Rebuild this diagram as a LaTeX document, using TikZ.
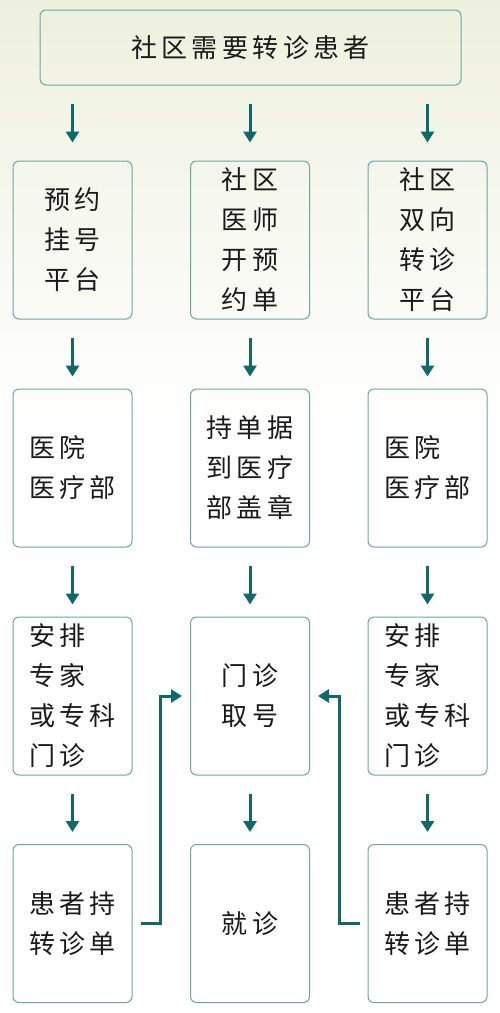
\documentclass[tikz,border=0pt]{standalone}
\usepackage{fontspec}
\newfontfamily\cjk[LetterSpace=17]{Noto Sans CJK SC}
\usetikzlibrary{arrows.meta,calc}
\definecolor{qingse}{HTML}{0D6A66}
\definecolor{kuangse}{HTML}{6AA8A0}
\definecolor{mise}{HTML}{EEF0DE}
\definecolor{zise}{HTML}{1A1A1A}
\tikzset{
  kuang/.style={draw=kuangse, line width=1pt, rounded corners=6pt, minimum width=119pt,
    minimum height=158pt, align=left, text=zise, inner sep=0pt,
    font=\cjk\fontsize{26}{40}\selectfont},
  jiantou/.style={draw=qingse, line width=3pt, -{Triangle[width=13pt,length=11pt]},
    shorten <=18pt, shorten >=12pt}
}

\begin{document}
\begin{tikzpicture}[x=1pt,y=-1pt]
    % 背景
    \useasboundingbox (0,0) rectangle (500,1013);
    \shade[top color=mise, bottom color=white] (0,0) rectangle (500,420);
    \fill[white] (0,420) rectangle (500,1013);

    % 顶部方框
    \node[kuang, minimum width=421pt, minimum height=75pt] (huanzhe) at (250.5,47.5) {社区需要转诊患者};

    % 左列
    \node[kuang] (a1) at (72.5,240) {预约\\挂号\\平台};
    \node[kuang] (a2) at (72.5,468) {医院\\医疗部};
    \node[kuang] (a3) at (72.5,696) {安排\\专家\\或专科\\门诊};
    \node[kuang] (a4) at (72.5,923.5) {患者持\\转诊单};

    % 中列
    \node[kuang] (b1) at (250,240) {社区\\医师\\开预\\约单};
    \node[kuang] (b2) at (250,468) {持单据\\到医疗\\部盖章};
    \node[kuang] (b3) at (250,696) {门诊\\取号};
    \node[kuang] (b4) at (250,923.5) {就诊};

    % 右列
    \node[kuang] (c1) at (427.5,240) {社区\\双向\\转诊\\平台};
    \node[kuang] (c2) at (427.5,468) {医院\\医疗部};
    \node[kuang] (c3) at (427.5,696) {安排\\专家\\或专科\\门诊};
    \node[kuang] (c4) at (427.5,923.5) {患者持\\转诊单};

    % 竖直箭头
    \draw[jiantou, shorten >=18pt] (huanzhe.south -| a1.north) -- (a1.north);
    \draw[jiantou, shorten >=18pt] (huanzhe.south -| b1.north) -- (b1.north);
    \draw[jiantou, shorten >=18pt] (huanzhe.south -| c1.north) -- (c1.north);
    \draw[jiantou] (a1) -- (a2);
    \draw[jiantou] (a2) -- (a3);
    \draw[jiantou] (a3) -- (a4);
    \draw[jiantou] (b1) -- (b2);
    \draw[jiantou] (b2) -- (b3);
    \draw[jiantou] (b3) -- (b4);
    \draw[jiantou] (c1) -- (c2);
    \draw[jiantou] (c2) -- (c3);
    \draw[jiantou] (c3) -- (c4);

    % 折线箭头
    \draw[jiantou, shorten <=8pt, shorten >=8pt] (a4.east) -- ++(28,0) |- (b3.west);
    \draw[jiantou, shorten <=8pt, shorten >=8pt] (c4.west) -- ++(-28,0) |- (b3.east);
\end{tikzpicture}
\end{document}
